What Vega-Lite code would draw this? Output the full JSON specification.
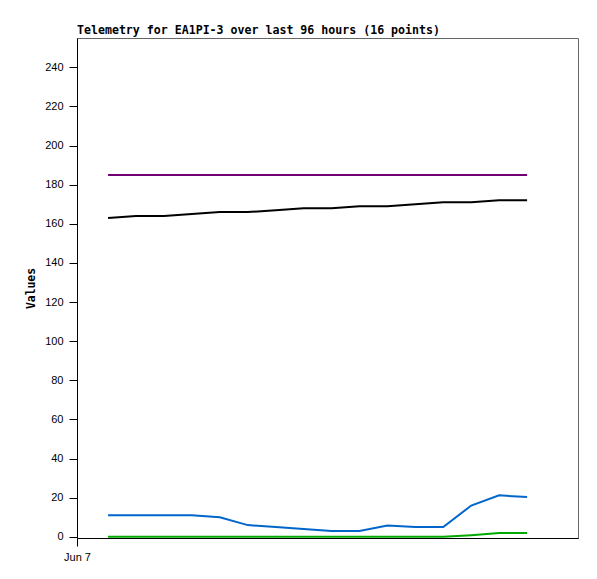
{
  "$schema": "https://vega.github.io/schema/vega-lite/v6.json",
  "autosize": "none",
  "padding": {"left": 77, "top": 38, "right": 19, "bottom": 41},
  "width": 501,
  "height": 500,
  "background": "white",
  "title": {
    "text": "Telemetry for EA1PI-3 over last 96 hours (16 points)",
    "anchor": "start",
    "frame": "group",
    "font": "DejaVu Sans Mono",
    "fontSize": 11.6,
    "fontWeight": "bold",
    "color": "black",
    "offset": 1
  },
  "data": {
    "values": [
      {"time": "2024-06-07T06:40:00Z", "series": "a", "value": 185},
      {"time": "2024-06-07T12:40:00Z", "series": "a", "value": 185},
      {"time": "2024-06-07T18:40:00Z", "series": "a", "value": 185},
      {"time": "2024-06-08T00:40:00Z", "series": "a", "value": 185},
      {"time": "2024-06-08T06:40:00Z", "series": "a", "value": 185},
      {"time": "2024-06-08T12:40:00Z", "series": "a", "value": 185},
      {"time": "2024-06-08T18:40:00Z", "series": "a", "value": 185},
      {"time": "2024-06-09T00:40:00Z", "series": "a", "value": 185},
      {"time": "2024-06-09T06:40:00Z", "series": "a", "value": 185},
      {"time": "2024-06-09T12:40:00Z", "series": "a", "value": 185},
      {"time": "2024-06-09T18:40:00Z", "series": "a", "value": 185},
      {"time": "2024-06-10T00:40:00Z", "series": "a", "value": 185},
      {"time": "2024-06-10T06:40:00Z", "series": "a", "value": 185},
      {"time": "2024-06-10T12:40:00Z", "series": "a", "value": 185},
      {"time": "2024-06-10T18:40:00Z", "series": "a", "value": 185},
      {"time": "2024-06-11T00:40:00Z", "series": "a", "value": 185},
      {"time": "2024-06-07T06:40:00Z", "series": "b", "value": 163},
      {"time": "2024-06-07T12:40:00Z", "series": "b", "value": 164},
      {"time": "2024-06-07T18:40:00Z", "series": "b", "value": 164},
      {"time": "2024-06-08T00:40:00Z", "series": "b", "value": 165},
      {"time": "2024-06-08T06:40:00Z", "series": "b", "value": 166},
      {"time": "2024-06-08T12:40:00Z", "series": "b", "value": 166},
      {"time": "2024-06-08T18:40:00Z", "series": "b", "value": 167},
      {"time": "2024-06-09T00:40:00Z", "series": "b", "value": 168},
      {"time": "2024-06-09T06:40:00Z", "series": "b", "value": 168},
      {"time": "2024-06-09T12:40:00Z", "series": "b", "value": 169},
      {"time": "2024-06-09T18:40:00Z", "series": "b", "value": 169},
      {"time": "2024-06-10T00:40:00Z", "series": "b", "value": 170},
      {"time": "2024-06-10T06:40:00Z", "series": "b", "value": 171},
      {"time": "2024-06-10T12:40:00Z", "series": "b", "value": 171},
      {"time": "2024-06-10T18:40:00Z", "series": "b", "value": 172},
      {"time": "2024-06-11T00:40:00Z", "series": "b", "value": 172},
      {"time": "2024-06-07T06:40:00Z", "series": "c", "value": 11},
      {"time": "2024-06-07T12:40:00Z", "series": "c", "value": 11},
      {"time": "2024-06-07T18:40:00Z", "series": "c", "value": 11},
      {"time": "2024-06-08T00:40:00Z", "series": "c", "value": 11},
      {"time": "2024-06-08T06:40:00Z", "series": "c", "value": 10},
      {"time": "2024-06-08T12:40:00Z", "series": "c", "value": 6},
      {"time": "2024-06-08T18:40:00Z", "series": "c", "value": 5},
      {"time": "2024-06-09T00:40:00Z", "series": "c", "value": 4},
      {"time": "2024-06-09T06:40:00Z", "series": "c", "value": 3},
      {"time": "2024-06-09T12:40:00Z", "series": "c", "value": 3},
      {"time": "2024-06-09T18:40:00Z", "series": "c", "value": 5.8},
      {"time": "2024-06-10T00:40:00Z", "series": "c", "value": 5},
      {"time": "2024-06-10T06:40:00Z", "series": "c", "value": 5},
      {"time": "2024-06-10T12:40:00Z", "series": "c", "value": 16},
      {"time": "2024-06-10T18:40:00Z", "series": "c", "value": 21.2},
      {"time": "2024-06-11T00:40:00Z", "series": "c", "value": 20.3},
      {"time": "2024-06-07T06:40:00Z", "series": "d", "value": 0},
      {"time": "2024-06-07T12:40:00Z", "series": "d", "value": 0},
      {"time": "2024-06-07T18:40:00Z", "series": "d", "value": 0},
      {"time": "2024-06-08T00:40:00Z", "series": "d", "value": 0},
      {"time": "2024-06-08T06:40:00Z", "series": "d", "value": 0},
      {"time": "2024-06-08T12:40:00Z", "series": "d", "value": 0},
      {"time": "2024-06-08T18:40:00Z", "series": "d", "value": 0},
      {"time": "2024-06-09T00:40:00Z", "series": "d", "value": 0},
      {"time": "2024-06-09T06:40:00Z", "series": "d", "value": 0},
      {"time": "2024-06-09T12:40:00Z", "series": "d", "value": 0},
      {"time": "2024-06-09T18:40:00Z", "series": "d", "value": 0},
      {"time": "2024-06-10T00:40:00Z", "series": "d", "value": 0},
      {"time": "2024-06-10T06:40:00Z", "series": "d", "value": 0},
      {"time": "2024-06-10T12:40:00Z", "series": "d", "value": 0.8},
      {"time": "2024-06-10T18:40:00Z", "series": "d", "value": 1.9},
      {"time": "2024-06-11T00:40:00Z", "series": "d", "value": 1.9}
    ]
  },
  "mark": {"type": "line", "strokeWidth": 2, "clip": true},
  "encoding": {
    "x": {
      "field": "time",
      "type": "temporal",
      "scale": {
        "type": "utc",
        "domain": [
          {"year": 2024, "month": 6, "date": 7, "utc": true},
          {"year": 2024, "month": 6, "date": 11, "hours": 11, "minutes": 36, "utc": true}
        ]
      },
      "axis": {
        "title": null,
        "values": [{"year": 2024, "month": 6, "date": 7, "utc": true}],
        "format": "%b %-d",
        "grid": false,
        "tickSize": 8,
        "labelPadding": 5,
        "labelFlush": false
      }
    },
    "y": {
      "field": "value",
      "type": "quantitative",
      "scale": {"domain": [-0.6, 255], "nice": false, "zero": false},
      "axis": {
        "title": "Values",
        "values": [0, 20, 40, 60, 80, 100, 120, 140, 160, 180, 200, 220, 240],
        "grid": false,
        "tickSize": 8,
        "labelPadding": 6,
        "titleFont": "DejaVu Sans Mono",
        "titleFontSize": 11.4,
        "titleFontWeight": "bold",
        "titleColor": "black",
        "titlePadding": 8
      }
    },
    "color": {
      "field": "series",
      "type": "nominal",
      "scale": {
        "domain": ["a", "b", "c", "d"],
        "range": ["#720072", "#000000", "#0066cc", "#00aa00"]
      },
      "legend": null
    }
  },
  "config": {
    "view": {"stroke": "#666666", "strokeWidth": 1},
    "axis": {
      "domainColor": "black",
      "tickColor": "black",
      "labelColor": "black",
      "labelFont": "Liberation Sans",
      "labelFontSize": 11,
      "domainWidth": 1,
      "tickWidth": 1
    }
  }
}
